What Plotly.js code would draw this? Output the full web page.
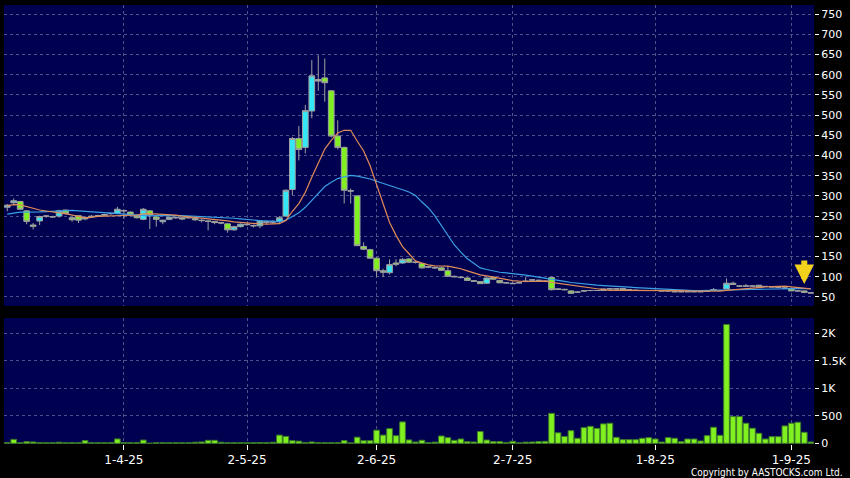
<!DOCTYPE html>
<html>
<head>
<meta charset="utf-8">
<script src="https://cdn.plot.ly/plotly-3.0.1.min.js"></script>
<style>
html,body{margin:0;padding:0;background:#000;}
#chart{width:850px;height:478px;}
</style>
</head>
<body>
<div id="chart"></div>
<script>
// Trading days (HK), 6 Mar 2025 - 4 Sep 2025
const dates = [
"2025-03-06","2025-03-07","2025-03-10","2025-03-11","2025-03-12","2025-03-13","2025-03-14","2025-03-17","2025-03-18","2025-03-19",
"2025-03-20","2025-03-21","2025-03-24","2025-03-25","2025-03-26","2025-03-27","2025-03-28","2025-03-31",
"2025-04-01","2025-04-02","2025-04-03","2025-04-07","2025-04-08","2025-04-09","2025-04-10","2025-04-11","2025-04-14","2025-04-15",
"2025-04-16","2025-04-17","2025-04-22","2025-04-23","2025-04-24","2025-04-25","2025-04-28","2025-04-29","2025-04-30",
"2025-05-02","2025-05-06","2025-05-07","2025-05-08","2025-05-09","2025-05-12","2025-05-13","2025-05-14","2025-05-15","2025-05-16",
"2025-05-19","2025-05-20","2025-05-21","2025-05-22","2025-05-23","2025-05-26","2025-05-27","2025-05-28","2025-05-29","2025-05-30",
"2025-06-02","2025-06-03","2025-06-04","2025-06-05","2025-06-06","2025-06-09","2025-06-10","2025-06-11","2025-06-12","2025-06-13",
"2025-06-16","2025-06-17","2025-06-18","2025-06-19","2025-06-20","2025-06-23","2025-06-24","2025-06-25","2025-06-26","2025-06-27","2025-06-30",
"2025-07-02","2025-07-03","2025-07-04","2025-07-07","2025-07-08","2025-07-09","2025-07-10","2025-07-11","2025-07-14","2025-07-15",
"2025-07-16","2025-07-17","2025-07-18","2025-07-21","2025-07-22","2025-07-23","2025-07-24","2025-07-25","2025-07-28","2025-07-29","2025-07-30","2025-07-31",
"2025-08-01","2025-08-04","2025-08-05","2025-08-06","2025-08-07","2025-08-08","2025-08-11","2025-08-12","2025-08-13","2025-08-14",
"2025-08-15","2025-08-18","2025-08-19","2025-08-20","2025-08-21","2025-08-22","2025-08-25","2025-08-26","2025-08-27","2025-08-28","2025-08-29",
"2025-09-01","2025-09-02","2025-09-03","2025-09-04"
];

const open = [
272,283,286,263,228,238,250,249,250,265, 246,251,243,250,251,252,256,257,264,260,
251,242,263,248,236,242,247,246,248,244, 240,238,237,234,231,216,224,230,227,226,
236,235,236,250,316,442,420,510,588,592, 560,448,420,313,300,175,167,146,115,110,
134,134,144,136,133,125,123,122,115,101, 99,97,90,88,84,99,91,85,84,85,
88,92,91,89,98,70,69,65,62,65, 66,66,66,70,70,71,68,67,66,66,
66,65,65,63,63,63,63,63,64,67, 66,70,84,77,77,77,79,76,75,74,
72,71,65,65,60
];
const high = [
280,294,288,265,233,251,253,251,266,266, 248,252,249,252,253,256,258,273,266,262,
253,270,265,250,241,249,249,247,250,246, 242,240,238,236,233,226,232,232,229,240,
238,240,250,316,446,473,525,636,648,640, 562,487,422,318,302,185,169,148,120,143,
143,146,146,138,135,127,125,124,126,103, 101,98,92,89,98,100,92,87,86,87,
100,94,93,91,100,72,70,66,64,66, 67,67,71,71,71,72,69,68,67,67,
67,66,66,64,64,64,64,64,66,72, 68,96,88,79,82,79,80,77,76,76,
74,72,66,66,62
];
const low = [
262,280,265,230,217,228,246,246,246,254, 236,233,240,248,248,250,253,255,243,250,
244,240,218,224,230,240,244,240,244,238, 234,215,230,230,209,214,222,226,222,220,
229,230,232,248,302,388,405,492,560,533, 445,415,281,281,176,166,144,100,99,106,
126,132,134,133,120,122,120,115,100,99, 96,90,87,82,82,93,84,83,82,84,
87,90,89,87,66,67,66,58,60,63, 64,65,65,69,68,67,67,65,65,65,
65,64,64,62,62,62,62,62,63,66, 65,69,80,75,75,76,74,75,74,73,
71,64,64,60,59
];
const close = [
277,288,267,237,225,249,250,248,263,256, 241,240,247,249,251,254,257,267,263,253,
246,267,253,242,240,247,246,243,246,241, 239,237,234,233,216,224,230,229,226,238,
235,236,246,314,442,415,511,597,584,580, 448,420,314,312,177,168,146,115,111,130,
131,143,136,136,122,124,122,116,101,100, 98,91,89,83,97,94,85,85,83,85,
89,92,91,89,68,69,68,59,62,65, 66,66,70,70,70,68,68,66,66,66,
66,65,65,63,63,63,63,63,65,68, 66,84,81,77,77,77,75,76,75,74,
72,65,65,61,60
];
// closes before the first visible day (estimated from the moving-average levels at the left edge)
const preCloses = [228,230,232,235,233,236,238,235,237,236,265,270,278,282,280,275,278,280,275];

const volume = [
15,72,12,30,25,15,12,12,20,12, 12,12,50,12,12,12,15,80,15,12,
15,60,3,12,12,12,12,12,12,20, 25,55,55,20,12,12,12,12,12,15,
15,20,150,127,48,40,15,25,15,12, 12,15,50,8,112,48,48,240,150,268,
139,390,62,24,56,15,22,134,104,55, 79,30,24,215,61,32,32,15,37,10,
22,24,32,37,546,192,125,231,92,285, 310,273,354,366,110,67,67,67,92,104,
79,24,104,92,30,79,79,43,140,293, 146,2165,488,488,366,275,183,79,122,122,
317,366,384,201,24
];

const tickDates = ["2025-04-01","2025-05-02","2025-06-02","2025-07-02","2025-08-01","2025-09-01"];
const tickLabels = ["1-4-25","2-5-25","2-6-25","2-7-25","1-8-25","1-9-25"];
const priceTicks = [50,100,150,200,250,300,350,400,450,500,550,600,650,700,750];
const volTicks = [0,500,1000,1500,2000];
const volTickLabels = ["0","500","1K","1.5K","2K"];

function movingAverage(n){
  const all = preCloses.concat(close);
  const off = preCloses.length;
  const out = [];
  for(let i=0;i<close.length;i++){
    const end = off+i;
    const start = Math.max(0,end-n+1);
    let s=0; for(let k=start;k<=end;k++) s+=all[k];
    out.push(s/(end-start+1));
  }
  return out;
}
const ma10 = movingAverage(10);
const ma20 = movingAverage(20);

const gridColor = "#50508a";
const font = "DejaVu Sans, Verdana, sans-serif";

const traces = [
  {
    type:"candlestick", x:dates, open:open, high:high, low:low, close:close,
    xaxis:"x", yaxis:"y",
    increasing:{line:{color:"#a0a0a0",width:1}, fillcolor:"#35e6f4"},
    decreasing:{line:{color:"#a0a0a0",width:1}, fillcolor:"#80f020"},
    whiskerwidth:0, hoverinfo:"skip"
  },
  {type:"scatter", mode:"lines", x:dates, y:ma20, xaxis:"x", yaxis:"y",
   line:{color:"#3aa0e6",width:1.2}, hoverinfo:"skip"},
  {type:"scatter", mode:"lines", x:dates, y:ma10, xaxis:"x", yaxis:"y",
   line:{color:"#e08c58",width:1.2}, hoverinfo:"skip"},
  {type:"bar", x:dates, y:volume, xaxis:"x2", yaxis:"y2",
   marker:{color:"#80f020", line:{color:"#3c7a28", width:1}}, hoverinfo:"skip"}
];

const xCommon = {
  type:"category", range:[-0.5, dates.length-0.5],
  tickvals:tickDates, ticktext:tickLabels,
  showgrid:true, gridcolor:gridColor, griddash:"3px,3px", gridwidth:1,
  zeroline:false, showline:false, fixedrange:true
};

const layout = {
  width:850, height:478,
  paper_bgcolor:"#000000", plot_bgcolor:"#000050",
  margin:{l:4, r:36, t:5, b:34},
  showlegend:false,
  boxmode:"overlay",
  boxgap:0.12,
  boxgroupgap:0,
  bargap:0.12,
  font:{family:font, color:"#ffffff", size:11},
  xaxis:Object.assign({}, xCommon, {anchor:"y", showticklabels:false, ticks:"", rangeslider:{visible:false}}),
  xaxis2:Object.assign({}, xCommon, {anchor:"y2", showticklabels:true, ticks:"outside", ticklen:5, tickcolor:"#ffffff",
    tickfont:{family:font, size:12, color:"#ffffff"}}),
  yaxis:{domain:[0.3144,1], range:[27.7,772.3], side:"right", tickvals:priceTicks,
    ticks:"outside", ticklen:4, tickcolor:"#ffffff", tickfont:{family:font, size:11, color:"#ffffff"},
    showgrid:true, gridcolor:gridColor, griddash:"3px,3px", zeroline:false, showline:false, fixedrange:true},
  yaxis2:{domain:[0,0.287], range:[-12,2282], side:"right", tickvals:volTicks, ticktext:volTickLabels,
    ticks:"outside", ticklen:4, tickcolor:"#ffffff", tickfont:{family:font, size:11, color:"#ffffff"},
    showgrid:true, gridcolor:gridColor, griddash:"3px,3px", zeroline:false, showline:false, fixedrange:true},
  annotations:[
    {xref:"paper", yref:"paper", x:1.038, y:-0.066, xanchor:"right", yanchor:"middle",
     text:"Copyright by AASTOCKS.com Ltd.", showarrow:false,
     font:{family:"DejaVu Sans Condensed, DejaVu Sans, sans-serif", size:10, color:"#ffffff"}},
    {xref:"x", yref:"y", x:dates[dates.length-2], y:82, ax:0, ay:-25, text:"",
     showarrow:true, arrowhead:2, arrowsize:0.65, arrowwidth:6, arrowcolor:"#f2d21a", standoff:0}
  ]
};

Plotly.newPlot("chart", traces, layout, {staticPlot:true, displayModeBar:false});
</script>
</body>
</html>
